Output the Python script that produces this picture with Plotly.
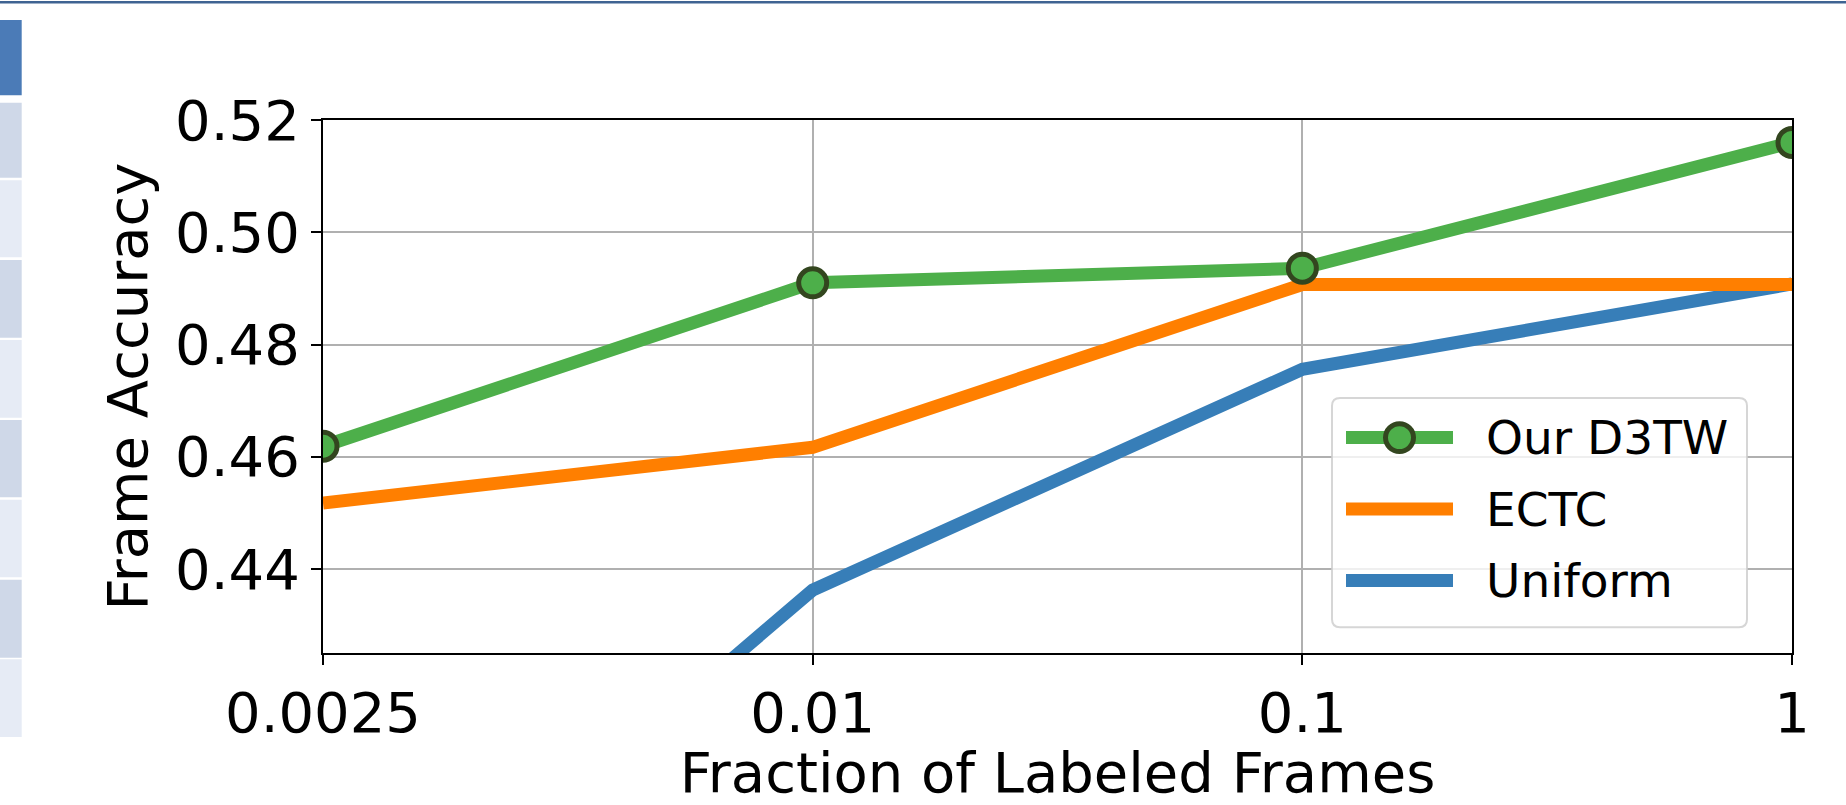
import plotly.graph_objects as go

# ---- data -------------------------------------------------------------
fractions = ["0.0025", "0.01", "0.1", "1"]
series_names = ["Our D3TW", "ECTC", "Uniform"]
d3tw_acc = [0.4619, 0.4910, 0.4936, 0.5160]
ectc_acc = [0.4518, 0.4617, 0.4907, 0.4907]
uniform_acc = [0.3617, 0.4363, 0.4756, 0.4908]
y_ticks = [0.44, 0.46, 0.48, 0.50, 0.52]

# ---- style ------------------------------------------------------------
GREEN = "#4daf4a"
ORANGE = "#ff7f00"
BLUE = "#377eb8"
EDGE = "#33461f"
FONT = "DejaVu Sans"

W, H = 1846, 805
PL, PR, PT, PB = 323, 1792, 120, 657  # plot area in page pixels


def px(x):
    return (x - PL) / (PR - PL)


def py(y):
    return (PB - y) / (PB - PT)


fig = go.Figure()

# draw order: Uniform, ECTC, then D3TW on top
fig.add_trace(go.Scatter(x=fractions, y=uniform_acc, mode="lines", name=series_names[2],
                         line=dict(color=BLUE, width=13), showlegend=False))
fig.add_trace(go.Scatter(x=fractions, y=ectc_acc, mode="lines", name=series_names[1],
                         line=dict(color=ORANGE, width=13), showlegend=False))
fig.add_trace(go.Scatter(x=fractions, y=d3tw_acc, mode="lines+markers", name=series_names[0],
                         line=dict(color=GREEN, width=13),
                         marker=dict(color=GREEN, size=28, line=dict(color=EDGE, width=5)),
                         showlegend=False))

shapes = []

# page decoration: thin top rule and side strip of tabs
shapes.append(dict(type="rect", xref="paper", yref="paper", layer="above",
                   x0=px(0), x1=px(W), y0=py(0), y1=py(2.5),
                   fillcolor="#3f6392", line=dict(width=0)))
shapes.append(dict(type="rect", xref="paper", yref="paper", layer="above",
                   x0=px(0), x1=px(21.7), y0=py(19.3), y1=py(95),
                   fillcolor="#4b7bb7", line=dict(width=0)))
tab_rows = [(102.7, 178.3), (180.7, 258.3), (261, 339.3), (341.7, 420),
            (422.3, 500), (502.7, 580.7), (583.3, 661.7), (663.3, 741.7)]
for i, (t, b) in enumerate(tab_rows):
    shapes.append(dict(type="rect", xref="paper", yref="paper", layer="above",
                       x0=px(0), x1=px(21.7), y0=py(t), y1=py(b),
                       fillcolor="#cfd8e8" if i % 2 == 0 else "#e6ebf5",
                       line=dict(width=0)))

# legend box with rounded corners
bx0, bx1, by0, by1, r = 1332, 1747, 400, 631, 8
path = (
    f"M {px(bx0 + r)},{py(by0)} L {px(bx1 - r)},{py(by0)} "
    f"Q {px(bx1)},{py(by0)} {px(bx1)},{py(by0 + r)} "
    f"L {px(bx1)},{py(by1 - r)} Q {px(bx1)},{py(by1)} {px(bx1 - r)},{py(by1)} "
    f"L {px(bx0 + r)},{py(by1)} Q {px(bx0)},{py(by1)} {px(bx0)},{py(by1 - r)} "
    f"L {px(bx0)},{py(by0 + r)} Q {px(bx0)},{py(by0)} {px(bx0 + r)},{py(by0)} Z"
)
shapes.append(dict(type="path", xref="paper", yref="paper", layer="above", path=path,
                   fillcolor="rgba(255,255,255,0.8)",
                   line=dict(color="rgba(204,204,204,0.8)", width=2)))

annotations = []
legend_colors = [GREEN, ORANGE, BLUE]
row_y = [440, 512, 584]
for name, color, yy in zip(series_names, legend_colors, row_y):
    shapes.append(dict(type="line", xref="paper", yref="paper", layer="above",
                       x0=px(1346), x1=px(1453), y0=py(yy), y1=py(yy),
                       line=dict(color=color, width=13)))
    annotations.append(dict(xref="paper", yref="paper", x=px(1484), y=py(yy),
                            xanchor="left", yanchor="middle", showarrow=False,
                            text=name, font=dict(family=FONT, size=47, color="black")))
# marker glyph on the D3TW legend entry
mr = 14
shapes.append(dict(type="circle", xref="paper", yref="paper", layer="above",
                   x0=px(1399.5 - mr), x1=px(1399.5 + mr),
                   y0=py(row_y[0] - mr), y1=py(row_y[0] + mr),
                   fillcolor=GREEN, line=dict(color=EDGE, width=5)))

axis_common = dict(
    showline=True, linecolor="black", linewidth=2, mirror=True,
    ticks="outside", ticklen=10, tickwidth=2, tickcolor="black",
    showgrid=True, gridcolor="#b0b0b0", gridwidth=2, zeroline=False,
    tickfont=dict(family=FONT, size=56, color="black"),
)

fig.update_layout(
    width=W, height=H, autosize=False,
    margin=dict(l=PL, r=W - PR, t=PT, b=H - PB, pad=0),
    paper_bgcolor="white", plot_bgcolor="white",
    showlegend=False,
    shapes=shapes, annotations=annotations,
    xaxis=dict(axis_common, type="category", range=[0, 3],
               categoryorder="array", categoryarray=fractions,
               ticklabelstandoff=0,
               title=dict(text="Fraction of Labeled Frames",
                          font=dict(family=FONT, size=56, color="black"), standoff=9)),
    yaxis=dict(axis_common, range=[0.42507, 0.52], tickvals=y_ticks,
               tickformat=".2f", ticklabelstandoff=0,
               title=dict(text="Frame Accuracy",
                          font=dict(family=FONT, size=56, color="black"), standoff=10)),
)

fig.write_html("out.html")
